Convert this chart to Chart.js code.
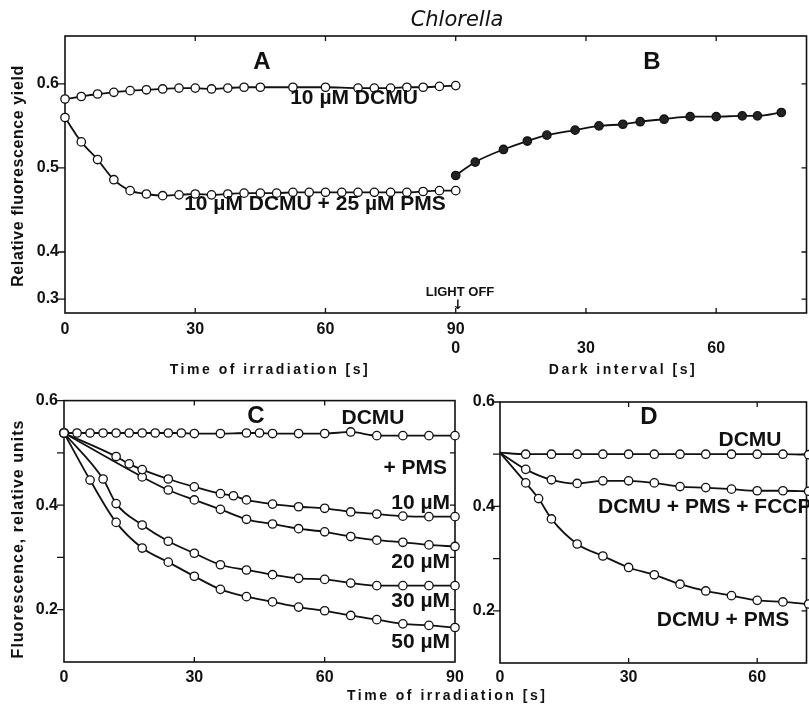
<!DOCTYPE html>
<html lang="en">
<head>
<meta charset="UTF-8">
<title>Chlorella fluorescence</title>
<script src="https://cdn.jsdelivr.net/npm/chart.js"></script>
<style>
  html, body { margin: 0; padding: 0; background: #fff; overflow: hidden; }
  body { width: 809px; height: 707px; position: relative; }
  canvas { position: absolute; }
  #top { left: 0; top: 0; }
  #c { left: 0; top: 385px; }
  #d { left: 470px; top: 385px; }
  .xtitle { position: absolute; left: 347px; top: 687px; font: bold 14px 'Liberation Sans'; letter-spacing: 2.5px; color: #111; white-space: nowrap; }
</style>
</head>
<body>
<canvas id="top" width="812" height="385"></canvas>
<canvas id="c" width="470" height="322"></canvas>
<canvas id="d" width="342" height="322"></canvas>
<div class="xtitle">Time of irradiation [s]</div>
<script>
// ---- panel A: irradiation time (s) ----
const aDcmuT = [0, 3.75, 7.5, 11.25, 15, 18.75, 22.5, 26.25, 30, 33.75, 37.5, 41.25, 45, 52.5, 60, 67.5, 71.25, 75, 78.75, 82.5, 86.25, 90];
const aDcmuY = [0.582, 0.585, 0.588, 0.590, 0.592, 0.593, 0.594, 0.595, 0.595, 0.594, 0.595, 0.596, 0.596, 0.596, 0.596, 0.595, 0.595, 0.595, 0.596, 0.596, 0.597, 0.598];
const aPmsT = [0, 3.75, 7.5, 11.25, 15, 18.75, 22.5, 26.25, 30, 33.75, 37.5, 41.25, 45, 48.75, 52.5, 56.25, 60, 63.75, 67.5, 71.25, 75, 78.75, 82.5, 86.25, 90];
const aPmsY = [0.560, 0.531, 0.510, 0.486, 0.473, 0.469, 0.467, 0.468, 0.469, 0.468, 0.469, 0.470, 0.470, 0.470, 0.471, 0.471, 0.471, 0.471, 0.471, 0.471, 0.471, 0.471, 0.472, 0.473, 0.473];

// ---- panel B: dark interval (s) after light off at 90 s ----
const lightOff = 90;
const bDarkT = [0, 4.5, 11, 16.5, 21, 27.5, 33, 38.5, 42.5, 48, 54, 60, 66, 69.5, 75];
const bDarkY = [0.491, 0.507, 0.522, 0.532, 0.539, 0.545, 0.550, 0.552, 0.555, 0.558, 0.561, 0.561, 0.562, 0.562, 0.566];

const topXTicks = [0, 30, 60, 90, 120, 150];
const topXLabels = ['0', '30', '60', ['90', '0'], ['', '30'], ['', '60']];
// the original axis is squeezed below 0.4, its "0.3" mark sits where 0.344 would be
const topYTicks = [0.344, 0.4, 0.5, 0.6];
const topYLabels = ['0.3', '0.4', '0.5', '0.6'];

// ---- panel C ----
const cDcmuT = [0, 3, 6, 9, 12, 15, 18, 21, 24, 27, 30, 36, 42, 45, 48, 54, 60, 66, 72, 78, 84, 90];
const cDcmuY = [0.538, 0.538, 0.538, 0.538, 0.538, 0.538, 0.538, 0.538, 0.538, 0.538, 0.537, 0.537, 0.538, 0.538, 0.537, 0.537, 0.537, 0.540, 0.533, 0.533, 0.533, 0.533];
const c10T = [0, 12, 15, 18, 24, 30, 36, 39, 42, 48, 54, 60, 66, 72, 78, 84, 90];
const c10Y = [0.538, 0.493, 0.479, 0.468, 0.450, 0.435, 0.422, 0.418, 0.410, 0.402, 0.397, 0.394, 0.387, 0.383, 0.379, 0.378, 0.378];
const c20T = [0, 18, 24, 30, 36, 42, 48, 54, 60, 66, 72, 78, 84, 90];
const c20Y = [0.538, 0.454, 0.429, 0.410, 0.392, 0.373, 0.364, 0.355, 0.349, 0.340, 0.333, 0.329, 0.324, 0.321];
const c30T = [0, 9, 12, 18, 24, 30, 36, 42, 48, 54, 60, 66, 72, 78, 84, 90];
const c30Y = [0.538, 0.450, 0.403, 0.362, 0.331, 0.308, 0.286, 0.276, 0.267, 0.260, 0.258, 0.251, 0.246, 0.246, 0.246, 0.246];
const c50T = [0, 6, 12, 18, 24, 30, 36, 42, 48, 54, 60, 66, 72, 78, 84, 90];
const c50Y = [0.538, 0.448, 0.367, 0.318, 0.291, 0.264, 0.239, 0.225, 0.215, 0.205, 0.198, 0.189, 0.181, 0.173, 0.170, 0.166];

// ---- panel D ----
const dDcmuT = [0, 6, 12, 18, 24, 30, 36, 42, 48, 54, 60, 66, 72];
const dDcmuY = [0.503, 0.500, 0.500, 0.500, 0.500, 0.500, 0.500, 0.500, 0.500, 0.500, 0.500, 0.500, 0.499];
const dFccpT = [0, 6, 12, 18, 24, 30, 36, 42, 48, 54, 60, 66, 72];
const dFccpY = [0.503, 0.471, 0.451, 0.444, 0.449, 0.449, 0.445, 0.438, 0.436, 0.433, 0.430, 0.430, 0.429];
const dPmsT = [0, 6, 9, 12, 18, 24, 30, 36, 42, 48, 54, 60, 66, 72];
const dPmsY = [0.503, 0.445, 0.415, 0.376, 0.328, 0.305, 0.283, 0.269, 0.251, 0.238, 0.229, 0.220, 0.217, 0.213];

const cdXTicks = [0, 30, 60, 90];
const cdYTicks = [0.1, 0.2, 0.3, 0.4, 0.5, 0.6];
const cdYLabels = ['', '0.2', '', '0.4', '', '0.6'];

Chart.defaults.font.family = "'Liberation Sans', Arial, sans-serif";
Chart.defaults.color = '#111';

const INK = '#111';
const pts = (xs, ys, shift = 0) => xs.map((x, i) => ({ x: x + shift, y: ys[i] }));

function series(data, extra) {
    return Object.assign({
        data,
        borderColor: INK,
        borderWidth: 1.8,
        pointRadius: 4.2,
        pointBackgroundColor: '#fff',
        pointBorderColor: INK,
        pointBorderWidth: 1.3,
        cubicInterpolationMode: 'monotone',
        clip: false,
    }, extra || {});
}

// box round the plot, with inward ticks on x and right, outward on left
const frame = {
    id: 'frame',
    beforeDatasetsDraw(chart) {
        const { ctx, chartArea: a, scales: { x, y } } = chart;
        ctx.save();
        ctx.strokeStyle = INK;
        ctx.lineWidth = 1.6;
        ctx.strokeRect(a.left, a.top, a.right - a.left, a.bottom - a.top);
        ctx.lineWidth = 1.3;
        ctx.beginPath();
        x.ticks.forEach(t => {
            const px = x.getPixelForValue(t.value);
            if (px <= a.left + 1 || px >= a.right - 1) return;
            ctx.moveTo(px, a.bottom); ctx.lineTo(px, a.bottom - 5);
            ctx.moveTo(px, a.top); ctx.lineTo(px, a.top + 5);
        });
        y.ticks.forEach(t => {
            const py = y.getPixelForValue(t.value);
            if (py >= a.bottom - 1) return;
            ctx.moveTo(a.left, py); ctx.lineTo(a.left - 7, py);
            if (py > a.top + 1) { ctx.moveTo(a.right, py); ctx.lineTo(a.right - 5, py); }
        });
        ctx.stroke();
        ctx.restore();
    }
};

// free text on the figure
const notes = {
    id: 'notes',
    afterDraw(chart, args, opts) {
        const ctx = chart.ctx;
        (opts.items || []).forEach(n => {
            ctx.save();
            ctx.font = n.font;
            ctx.fillStyle = INK;
            ctx.letterSpacing = n.spacing || '0px';
            ctx.textAlign = n.align || 'center';
            ctx.textBaseline = 'middle';
            ctx.translate(n.px, n.py);
            if (n.rot) ctx.rotate(n.rot);
            ctx.fillText(n.text, 0, 0);
            ctx.restore();
        });
    }
};

const tickFont = { size: 16, weight: 'bold' };
const big = "bold 24px 'Liberation Sans'";
const lab = "bold 21px 'Liberation Sans'";

function makeChart(id, cfg) {
    return new Chart(document.getElementById(id), {
        type: 'line',
        data: { datasets: cfg.datasets },
        plugins: [frame, notes],
        options: {
            responsive: false,
            animation: false,
            layout: { padding: cfg.padding },
            plugins: {
                legend: { display: false },
                tooltip: { enabled: false },
                notes: { items: cfg.notes },
            },
            scales: {
                x: {
                    type: 'linear',
                    min: cfg.xMin, max: cfg.xMax,
                    grid: { display: false, drawTicks: false },
                    border: { display: false },
                    afterBuildTicks: s => { s.ticks = cfg.xTicks.map(v => ({ value: v })); },
                    afterFit: s => { s.height = cfg.xHeight; },
                    ticks: {
                        font: tickFont, padding: cfg.xPad, maxRotation: 0, autoSkip: false,
                        callback: (v, i) => cfg.xLabels ? cfg.xLabels[i] : String(v),
                    },
                },
                y: {
                    type: 'linear',
                    min: cfg.yMin, max: cfg.yMax,
                    grid: { display: false, drawTicks: false },
                    border: { display: false },
                    afterBuildTicks: s => { s.ticks = cfg.yTicks.map(v => ({ value: v })); },
                    afterFit: s => { s.width = cfg.yWidth; },
                    ticks: {
                        font: tickFont, padding: cfg.yPad, autoSkip: false,
                        callback: (v, i) => cfg.yLabels[i],
                    },
                },
            },
        },
    });
}

// top: A and B share one time axis
makeChart('top', {
    padding: { left: 0, top: 36, right: 1, bottom: 22 },
    xMin: 0, xMax: 170.8, xTicks: topXTicks, xLabels: topXLabels, xHeight: 50, xPad: 7,
    yMin: 0.3274, yMax: 0.657, yTicks: topYTicks, yLabels: topYLabels, yWidth: 65, yPad: 6,
    datasets: [
        series(pts(aDcmuT, aDcmuY)),
        series(pts(aPmsT, aPmsY)),
        series(pts(bDarkT, bDarkY, lightOff), { pointBackgroundColor: '#222' }),
    ],
    notes: [
        { text: 'Chlorella', px: 457, py: 21, font: "oblique 21px 'DejaVu Sans'" },
        { text: 'A', px: 262, py: 62, font: big },
        { text: 'B', px: 652, py: 62, font: big },
        { text: '10 µM DCMU', px: 354, py: 98, font: lab },
        { text: '10 µM DCMU + 25 µM PMS', px: 315, py: 204, font: lab },
        { text: 'LIGHT OFF', px: 460, py: 292, font: "bold 13px 'Liberation Sans'" },
        { text: '↓', px: 458, py: 306, font: "bold 13px 'DejaVu Sans'" },
        { text: 'Time of irradiation [s]', px: 270, py: 370, font: "bold 14px 'Liberation Sans'", spacing: '2.5px' },
        { text: 'Dark interval [s]', px: 623, py: 370, font: "bold 14px 'Liberation Sans'", spacing: '2.5px' },
        { text: 'Relative fluorescence yield', px: 19, py: 176, rot: -Math.PI / 2, font: "bold 16px 'Liberation Sans'", spacing: '0.6px' },
    ],
});

makeChart('c', {
    padding: { left: 0, top: 15, right: 15, bottom: 0 },
    xMin: 0, xMax: 90, xTicks: cdXTicks, xHeight: 45, xPad: 6,
    yMin: 0.1, yMax: 0.6, yTicks: cdYTicks, yLabels: cdYLabels, yWidth: 64, yPad: 6,
    datasets: [
        series(pts(cDcmuT, cDcmuY)),
        series(pts(c10T, c10Y)),
        series(pts(c20T, c20Y)),
        series(pts(c30T, c30Y)),
        series(pts(c50T, c50Y)),
    ],
    notes: [
        { text: 'C', px: 256, py: 31, font: big },
        { text: 'DCMU', px: 373, py: 33, font: lab },
        { text: '+ PMS', px: 447, py: 83, align: 'right', font: lab },
        { text: '10 µM', px: 450, py: 118, align: 'right', font: lab },
        { text: '20 µM', px: 450, py: 177, align: 'right', font: lab },
        { text: '30 µM', px: 450, py: 216, align: 'right', font: lab },
        { text: '50 µM', px: 450, py: 257, align: 'right', font: lab },
        { text: 'Fluorescence, relative units', px: 19, py: 154, rot: -Math.PI / 2, font: "bold 16px 'Liberation Sans'", spacing: '1px' },
    ],
});

const noFirst = { pointRadius: c => (c.dataIndex === 0 ? 0 : 4.2) };
makeChart('d', {
    padding: { left: 0, top: 17, right: 1, bottom: 0 },
    xMin: 0, xMax: 71.5, xTicks: [0, 30, 60], xHeight: 44, xPad: 5,
    yMin: 0.1, yMax: 0.6, yTicks: cdYTicks, yLabels: cdYLabels, yWidth: 30, yPad: 5,
    datasets: [
        series(pts(dDcmuT, dDcmuY), noFirst),
        series(pts(dFccpT, dFccpY), noFirst),
        series(pts(dPmsT, dPmsY), noFirst),
    ],
    notes: [
        { text: 'D', px: 179, py: 32, font: big },
        { text: 'DCMU', px: 280, py: 55, font: lab },
        { text: 'DCMU + PMS + FCCP', px: 128, py: 122, align: 'left', font: lab },
        { text: 'DCMU + PMS', px: 253, py: 235, font: lab },
    ],
});
</script>
</body>
</html>
